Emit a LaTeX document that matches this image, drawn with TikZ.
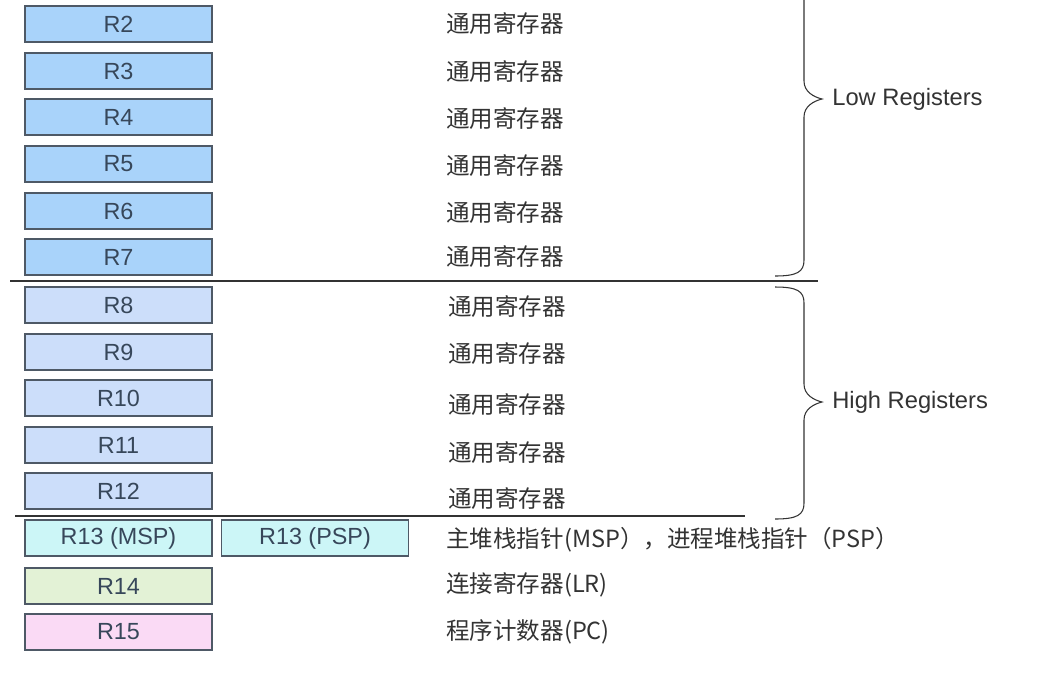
\documentclass[tikz,border=0pt]{standalone}
\usepackage{fontspec}
\setmainfont{Liberation Sans}
\newfontfamily\cjk{Noto Sans CJK SC}

\definecolor{lowblue}{HTML}{A9D3FA}
\definecolor{highblue}{HTML}{CCDEFA}
\definecolor{spcyan}{HTML}{CCF6F7}
\definecolor{lrgreen}{HTML}{E3F2D6}
\definecolor{pcpink}{HTML}{FADAF5}
\definecolor{edgegray}{HTML}{4E5966}
\definecolor{txtgray}{HTML}{333333}
\definecolor{regtxt}{HTML}{37475A}

\begin{document}
\begin{tikzpicture}[x=0.02cm,y=-0.02cm]
    \tikzstyle{reg}=[draw=edgegray, line width=0.6pt, minimum width=3.74cm, minimum height=0.72cm, inner sep=0pt, text=regtxt, font=\fontsize{13.3}{15}\selectfont]
    \tikzstyle{desc}=[anchor=west, inner sep=0pt, text=txtgray, font=\cjk\fontsize{13.4}{15}\selectfont]
    \tikzstyle{group}=[anchor=west, inner sep=0pt, text=txtgray, font=\fontsize{13.5}{15}\selectfont]
    \tikzstyle{brc}=[draw=txtgray, line width=0.6pt]
    \tikzstyle{sep}=[draw=txtgray, line width=0.6pt]
    \useasboundingbox[fill=white] (0,0) rectangle (1047,677);
    \clip (0,0) rectangle (1047,677);

    % low registers
    \foreach \n/\y/\ty in {2/24/24, 3/71/72, 4/117/119, 5/164/166, 6/211/213, 7/257/257}
        {\node[reg, fill=lowblue] (r\n) at (118.5,\y) {R\n};
         \node[desc] (d\n) at (446,\ty) {通用寄存器};}

    % high registers
    \foreach \n/\y/\ty in {8/305/307, 9/352/354, 10/398/405, 11/445/453, 12/491/499}
        {\node[reg, fill=highblue] (r\n) at (118.5,\y) {R\n};
         \node[desc] (d\n) at (448,\ty) {通用寄存器};}

    % special registers
    \node[reg, fill=spcyan] (msp) at (118.5,538) {R13 (MSP)};
    \node[reg, fill=spcyan] (psp) at (315,538) {R13 (PSP)};
    \node[reg, fill=lrgreen] (r14) at (118.5,586) {R14};
    \node[reg, fill=pcpink] (r15) at (118.5,632) {R15};
    \node[desc] (d13) at (446,540) {主堆栈指针(MSP），进程堆栈指针（PSP）};
    \node[desc] (d14) at (446,585) {连接寄存器(LR)};
    \node[desc] (d15) at (446,632) {程序计数器(PC)};

    % separators
    \draw[sep] (10,281) -- (818,281);
    \draw[sep] (15,516) -- (745,516);

    % braces
    \draw[brc] (804,-78) -- (804,81) .. controls (804,92) and (814,97) .. (822,99)
        .. controls (814,101) and (804,106) .. (804,117) -- (804,260)
        .. controls (804,272) and (797,276) .. (775,276);
    \draw[brc] (775,287) .. controls (797,287) and (804,291) .. (804,303) -- (804,384)
        .. controls (804,395) and (814,400) .. (822,402)
        .. controls (814,404) and (804,409) .. (804,420) -- (804,503)
        .. controls (804,515) and (797,519) .. (775,519);
    \node[group] (low) at (832,99) {Low Registers};
    \node[group] (high) at (832,402) {High Registers};
\end{tikzpicture}
\end{document}
